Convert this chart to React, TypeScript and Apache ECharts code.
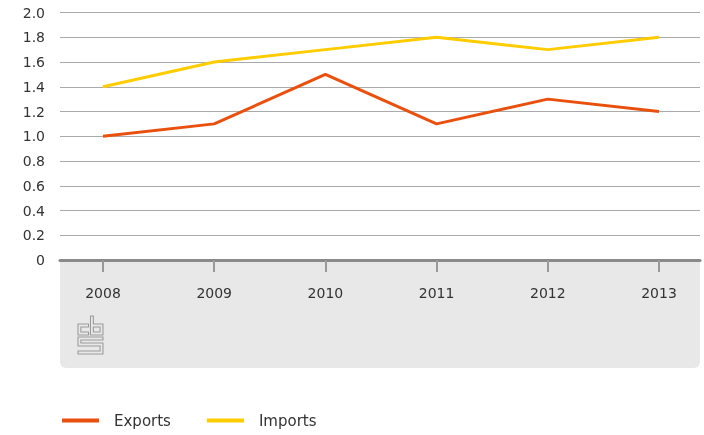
import React, { useEffect, useRef } from "react";
import * as echarts from "echarts";

const categories = ["2008", "2009", "2010", "2011", "2012", "2013"];
const exportsValues = [1.0, 1.1, 1.5, 1.1, 1.3, 1.2];
const importsValues = [1.4, 1.6, 1.7, 1.8, 1.7, 1.8];
const seriesNames = ["Exports", "Imports"];

const logoPath =
  "M0 8 L11 8 L11 11 L3 11 L3 16 L11 16 L11 19 L0 19 Z " +
  "M13 0 L16 0 L16 8 L26 8 L26 19 L13 19 Z M16 11 L16 16 L23 16 L23 11 Z " +
  "M0 21 L26 21 L26 24 L3 24 L3 27 L26 27 L26 38 L0 38 L0 35 L23 35 L23 30 L0 30 Z";

echarts.graphic.registerShape("cbslogo", (echarts.graphic as any).extendPath(logoPath, {}));

export default function App() {
  const ref = useRef<HTMLDivElement>(null);
  useEffect(() => {
    if (!ref.current) return;
    const chart = echarts.init(ref.current, undefined, { renderer: "svg" });
    const years = categories.map(Number);
    const font = "'DejaVu Sans', sans-serif";
    const first = years[0];
    const last = years[years.length - 1];
    const step = 111.2;
    chart.setOption({
      animation: false,
      grid: { left: 60, right: 4, top: 12.5, bottom: 175, containLabel: false },
      graphic: [
        {
          type: "rect",
          z: -10,
          shape: { x: 60, y: 260, width: 640, height: 108, r: [0, 0, 6, 6] },
          style: { fill: "#e8e8e8" },
        },
        {
          type: "cbslogo",
          x: 78,
          y: 316,
          scaleX: 0.96,
          scaleY: 1,
          z: 5,
          style: { fill: "none", stroke: "#999", lineWidth: 1.1 },
        },
      ],
      xAxis: {
        type: "value",
        min: first - 43 / step,
        max: last + 41 / step,
        splitLine: { show: false },
        axisLine: { show: true, onZero: false, lineStyle: { color: "#8a8a8a", width: 3 } },
        axisTick: {
          show: true,
          customValues: years,
          length: 12,
          lineStyle: { color: "#999", width: 2 },
        },
        axisLabel: {
          customValues: years,
          formatter: (v: number) => String(v),
          margin: 26,
          fontSize: 14,
          color: "#333",
          fontFamily: font,
        },
      },
      yAxis: {
        type: "value",
        min: 0,
        max: 2,
        interval: 0.2,
        axisLine: { show: false },
        axisTick: { show: false },
        splitLine: { lineStyle: { color: "#aaa", width: 1 } },
        axisLabel: {
          margin: 15,
          fontSize: 14,
          color: "#333",
          fontFamily: font,
          formatter: (v: number) => (v === 0 ? "0" : v.toFixed(1)),
        },
      },
      legend: {
        left: 62,
        top: 413,
        padding: 0,
        icon: "rect",
        itemWidth: 37,
        itemHeight: 4,
        itemGap: 36,
        textStyle: { fontSize: 15, color: "#333", fontFamily: font, padding: [0, 0, 0, 10] },
        data: seriesNames,
      },
      series: [
        {
          name: seriesNames[0],
          type: "line",
          symbol: "none",
          lineStyle: { width: 3, color: "#e9500e" },
          itemStyle: { color: "#e9500e" },
          data: years.map((y, i) => [y, exportsValues[i]]),
        },
        {
          name: seriesNames[1],
          type: "line",
          symbol: "none",
          lineStyle: { width: 3, color: "#ffcc00" },
          itemStyle: { color: "#ffcc00" },
          data: years.map((y, i) => [y, importsValues[i]]),
        },
      ],
    });
    return () => chart.dispose();
  }, []);
  return (
    <div
      ref={ref}
      style={{ position: "fixed", left: 0, top: 0, width: 704, height: 435 }}
    />
  );
}
